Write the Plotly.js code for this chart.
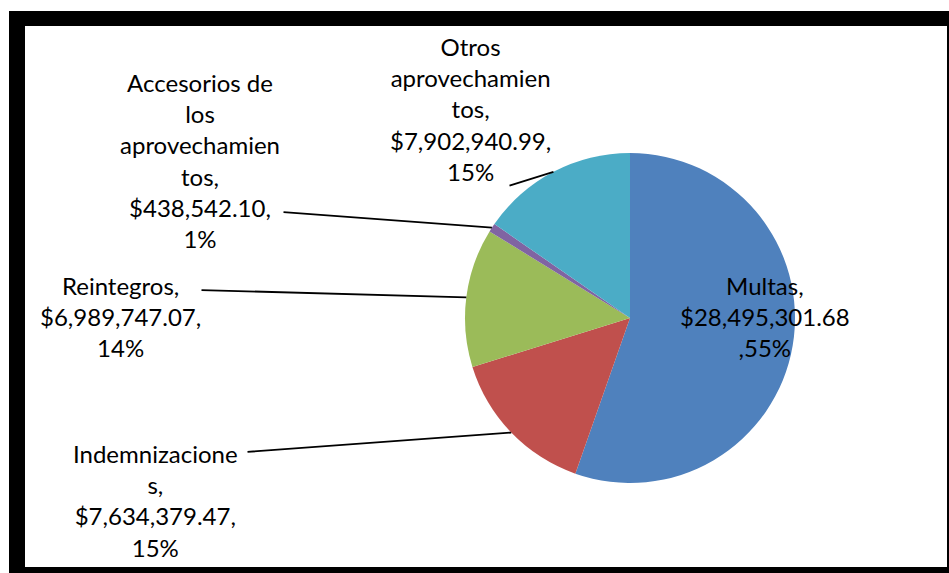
<!DOCTYPE html>
<html>
<head>
<meta charset="utf-8">
<script src="https://cdn.plot.ly/plotly-3.0.1.min.js"></script>
<style>
  html, body { margin: 0; padding: 0; background: #ffffff; }
  #chart { width: 949px; height: 573px; }
</style>
</head>
<body>
<div id="chart"></div>
<script>
// ---- Data ----
const categories = ["Multas", "Indemnizaciones", "Reintegros", "Accesorios de los aprovechamientos", "Otros aprovechamientos"];
const values = [28495301.68, 7634379.47, 6989747.07, 438542.10, 7902940.99];
const colors = ["#4F81BD", "#C0504D", "#9BBB59", "#8064A2", "#4BACC6"];
const labelTexts = [
  "Multas,<br>$28,495,301.68<br>,55%",
  "Indemnizacione<br>s,<br>$7,634,379.47,<br>15%",
  "Reintegros,<br>$6,989,747.07,<br>14%",
  "Accesorios de<br>los<br>aprovechamien<br>tos,<br>$438,542.10,<br>1%",
  "Otros<br>aprovechamien<br>tos,<br>$7,902,940.99,<br>15%"
];

// ---- Layout geometry (pixels) ----
const W = 949, H = 573;
const cx = 630, cy = 318, R = 165;
const px = x => x / W;
const py = y => 1 - y / H;

// label centres and leader-line starts (pixels)
const labelPos = [[765, 316], [155, 500], [120, 316], [200, 160], [470, 109]];
const leaderStart = [null, [246, 452], [200, 290], [282, 212], [508, 186]];

// slice mid-angles from the data (clockwise from 12 o'clock)
const total = values.reduce((a, b) => a + b, 0);
let cum = 0;
const mids = values.map(v => { const m = (cum + v / 2) / total * 2 * Math.PI; cum += v; return m; });

const annotations = [];
labelTexts.forEach((t, i) => {
  annotations.push({
    xref: "paper", yref: "paper",
    x: px(labelPos[i][0]), y: py(labelPos[i][1]),
    text: t, showarrow: false,
    xanchor: "center", yanchor: "middle", align: "center",
    font: { family: "Lato, 'Open Sans', sans-serif", size: 24, color: "#000000" }
  });
  if (leaderStart[i]) {
    const tx = cx + R * Math.sin(mids[i]);
    const ty = cy - R * Math.cos(mids[i]);
    annotations.push({
      xref: "paper", yref: "paper",
      x: px(tx), y: py(ty),
      axref: "paper", ayref: "paper",
      ax: px(leaderStart[i][0]), ay: py(leaderStart[i][1]),
      text: "", showarrow: true, arrowhead: 0, arrowwidth: 1.8, arrowcolor: "#000000",
      standoff: 0, startstandoff: 0
    });
  }
});

const trace = {
  type: "pie",
  labels: categories,
  values: values,
  sort: false,
  direction: "clockwise",
  rotation: 0,
  textinfo: "none",
  hoverinfo: "label+value+percent",
  marker: { colors: colors, line: { width: 0 } },
  domain: { x: [px(cx - R), px(cx + R)], y: [py(cy + R), py(cy - R)] },
  showlegend: false
};

const layout = {
  width: W, height: H,
  margin: { l: 0, r: 0, t: 0, b: 0 },
  paper_bgcolor: "#ffffff",
  showlegend: false,
  shapes: [
    { type: "rect", xref: "paper", yref: "paper", layer: "below",
      x0: px(9), x1: 1, y0: 0, y1: py(11),
      fillcolor: "#000000", line: { width: 0 } },
    { type: "rect", xref: "paper", yref: "paper", layer: "below",
      x0: px(25), x1: px(947), y0: py(567), y1: py(26),
      fillcolor: "#ffffff", line: { width: 0 } }
  ],
  annotations: annotations
};

Plotly.newPlot("chart", [trace], layout, { displayModeBar: false, staticPlot: true });
</script>
</body>
</html>
